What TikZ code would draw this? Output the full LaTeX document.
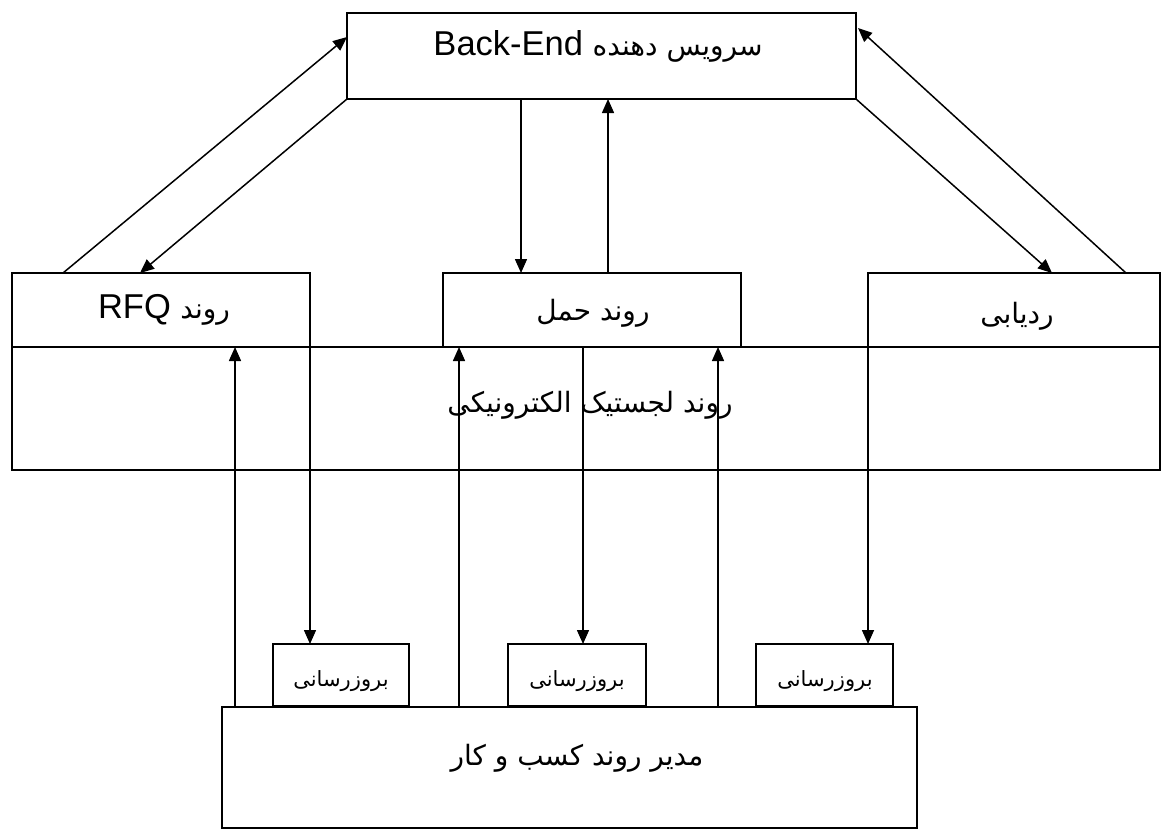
\documentclass[tikz,border=0pt]{standalone}
\usepackage{fontspec}
\setmainfont{Liberation Sans}
\newfontfamily\arabicfont[Script=Arabic]{DejaVu Sans}
\TeXXeTstate=1
\usetikzlibrary{arrows.meta}
\begin{document}
\begin{tikzpicture}[x=1pt,y=-1pt,
  box/.style={draw,line width=1.8pt},
  arr/.style={line width=1.5pt,-{Triangle[length=14pt,width=12pt]}},
  lat/.style={font=\fontsize{34.5}{38}\selectfont,anchor=base,inner sep=0pt},
  fa/.style={font=\arabicfont\fontsize{28}{32}\selectfont},
  fasm/.style={font=\arabicfont\fontsize{21}{24}\selectfont}]
\useasboundingbox (0,0) rectangle (1161,830);
% boxes
\draw[box] (347,13) rectangle (856,99);
\draw[box] (12,347) rectangle (1160,470);
\draw[box] (12,273) rectangle (310,347);
\draw[box] (443,273) rectangle (741,347);
\draw[box] (868,273) rectangle (1160,347);
\draw[box] (222,707) rectangle (917,828);
\draw[box] (273,644) rectangle (409,706);
\draw[box] (508,644) rectangle (646,706);
\draw[box] (756,644) rectangle (893,706);
% text nodes
\node[lat] (tback) at (598,55) {\beginR{\arabicfont\fontsize{28}{32}\selectfont سرویس دهنده} \beginL Back-End\endL\endR};
\node[lat] (trfq) at (164,318) {\beginR{\arabicfont\fontsize{28}{32}\selectfont روند} \beginL RFQ\endL\endR};
\node[fa] (thaml) at (593,313) {\beginR روند حمل\endR};
\node[fa] (tradi) at (1017,316) {\beginR ردیابی\endR};
\node[fa] (tlog) at (590,405) {\beginR روند لجستیک الکترونیکی\endR};
\node[fa] (tmod) at (577,758) {\beginR مدیر روند کسب و کار\endR};
\node[fasm] (tu1) at (341,681) {\beginR بروزرسانی\endR};
\node[fasm] (tu2) at (577,681) {\beginR بروزرسانی\endR};
\node[fasm] (tu3) at (825,681) {\beginR بروزرسانی\endR};
% connector end points
\coordinate (a1s) at (63,273); \coordinate (a1e) at (347,37);
\coordinate (a2s) at (347,99); \coordinate (a2e) at (140,273);
\coordinate (a3s) at (521,99); \coordinate (a3e) at (521,273);
\coordinate (a4s) at (608,273); \coordinate (a4e) at (608,99);
\coordinate (a5s) at (856,99); \coordinate (a5e) at (1052,273);
\coordinate (a6s) at (1126,273); \coordinate (a6e) at (858,28);
\coordinate (u1s) at (235,707); \coordinate (u1e) at (235,347);
\coordinate (u2s) at (459,707); \coordinate (u2e) at (459,347);
\coordinate (u3s) at (718,707); \coordinate (u3e) at (718,347);
\coordinate (d1s) at (310,347); \coordinate (d1e) at (310,644);
\coordinate (d2s) at (583,347); \coordinate (d2e) at (583,644);
\coordinate (d3s) at (868,347); \coordinate (d3e) at (868,644);
\draw[arr] (a1s) -- (a1e);
\draw[arr] (a2s) -- (a2e);
\draw[arr] (a3s) -- (a3e);
\draw[arr] (a4s) -- (a4e);
\draw[arr] (a5s) -- (a5e);
\draw[arr] (a6s) -- (a6e);
\draw[arr] (u1s) -- (u1e);
\draw[arr] (u2s) -- (u2e);
\draw[arr] (u3s) -- (u3e);
\draw[arr] (d1s) -- (d1e);
\draw[arr] (d2s) -- (d2e);
\draw[arr] (d3s) -- (d3e);
\end{tikzpicture}
\end{document}
